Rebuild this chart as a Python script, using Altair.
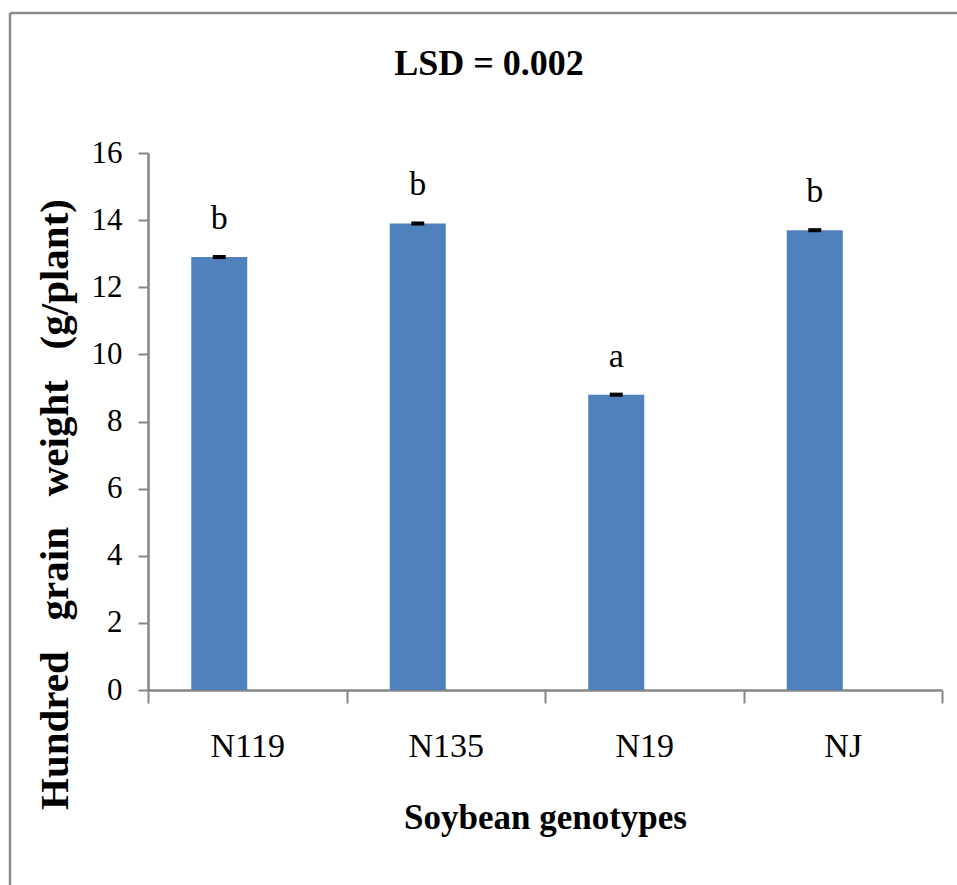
import altair as alt
import pandas as pd

# ---- data ----
genotypes = ["N119", "N135", "N19", "NJ"]
means = [12.9, 13.9, 8.8, 13.7]
errors = [0.06, 0.06, 0.06, 0.06]
letters = ["b", "b", "a", "b"]
series_domain = ["Mean", "Blank"]   # Excel-style second (empty) series slot
y_ticks = [0, 2, 4, 6, 8, 10, 12, 14, 16]
chart_title = "LSD = 0.002"

df = pd.DataFrame({
    "genotype": genotypes,
    "mean": means,
    "err": errors,
    "letter": letters,
    "series": ["Mean"] * len(genotypes),
})
df["lo"] = df["mean"] - df["err"]
df["hi"] = df["mean"] + df["err"]

FONT = "Liberation Serif"
GRAY = "#868686"
BLUE = "#4F81BD"

W, H = 794, 537
PAD = {"left": 148, "top": 153, "right": 15, "bottom": 195}

SP = "\u00a0\u00a0\u00a0"
x_axis = alt.Axis(
    title="Soybean genotypes",
    titleFont=FONT, titleFontSize=35, titleFontWeight="bold", titleColor="black",
    titleBaseline="alphabetic", titleY=138,
    labelFont=FONT, labelFontSize=34, labelColor="black", labelAngle=0,
    labelBaseline="alphabetic", labelPadding=53,
    tickBand="extent", tickSize=13, tickColor=GRAY, tickWidth=2,
    domainColor=GRAY, domainWidth=2.5,
)
y_axis = alt.Axis(
    values=y_ticks, format="d", grid=False,
    title=f"Hundred{SP}grain{SP}weight{SP}(g/plant)",
    titleFont=FONT, titleFontSize=41, titleFontWeight="bold", titleColor="black",
    titleAngle=270, titleAlign="center", titleBaseline="middle",
    titleX=-93, titleY=351,
    labelFont=FONT, labelFontSize=31, labelColor="black",
    labelPadding=16, tickSize=10, tickColor=GRAY, tickWidth=2,
    domainColor=GRAY, domainWidth=2.5,
)

x_scale = alt.Scale(paddingInner=0, paddingOuter=0)
xo_scale = alt.Scale(domain=series_domain, paddingInner=0, paddingOuter=0.772)
y_scale = alt.Scale(domain=[0, 16], nice=False)

x_enc = alt.X("genotype:N", sort=genotypes, scale=x_scale, axis=x_axis)
xo_enc = alt.XOffset("series:N", scale=xo_scale)

bars = alt.Chart(df).mark_bar(color=BLUE).encode(
    x=x_enc,
    xOffset=xo_enc,
    y=alt.Y("mean:Q", scale=y_scale, axis=y_axis),
)

errbars = alt.Chart(df).mark_bar(color="black", width=13).encode(
    x=x_enc,
    xOffset=xo_enc,
    y=alt.Y("lo:Q", scale=y_scale, axis=y_axis),
    y2="hi:Q",
)

labels = alt.Chart(df).mark_text(
    font=FONT, fontSize=34, baseline="alphabetic", dy=-28, color="black"
).encode(
    x=x_enc,
    xOffset=xo_enc,
    y=alt.Y("mean:Q", scale=y_scale, axis=y_axis),
    text="letter:N",
)

# decoration: outer chart frame (right/bottom edges fall outside the picture) and title
deco_df = pd.DataFrame({"label": [chart_title]})
frame_top = alt.Chart(deco_df).mark_rule(color="#8a8a8a", strokeWidth=2.5).encode(
    x=alt.value(-138), x2=alt.value(809), y=alt.value(-140)
)
frame_left = alt.Chart(deco_df).mark_rule(color="#8a8a8a", strokeWidth=2.5).encode(
    x=alt.value(-138), y=alt.value(-140), y2=alt.value(732)
)
title_txt = alt.Chart(deco_df).mark_text(
    font=FONT, fontSize=36, fontWeight="bold", color="black",
    align="center", baseline="alphabetic",
).encode(
    x=alt.value(341), y=alt.value(-78), text="label:N"
)

chart = alt.layer(bars, errbars, labels, frame_top, frame_left, title_txt).properties(
    width=W,
    height=H,
    padding=PAD,
    autosize=alt.AutoSizeParams(type="none"),
    background="white",
).configure_view(stroke=None)

chart.save("out.html", embed_options={"renderer": "svg", "actions": False})
